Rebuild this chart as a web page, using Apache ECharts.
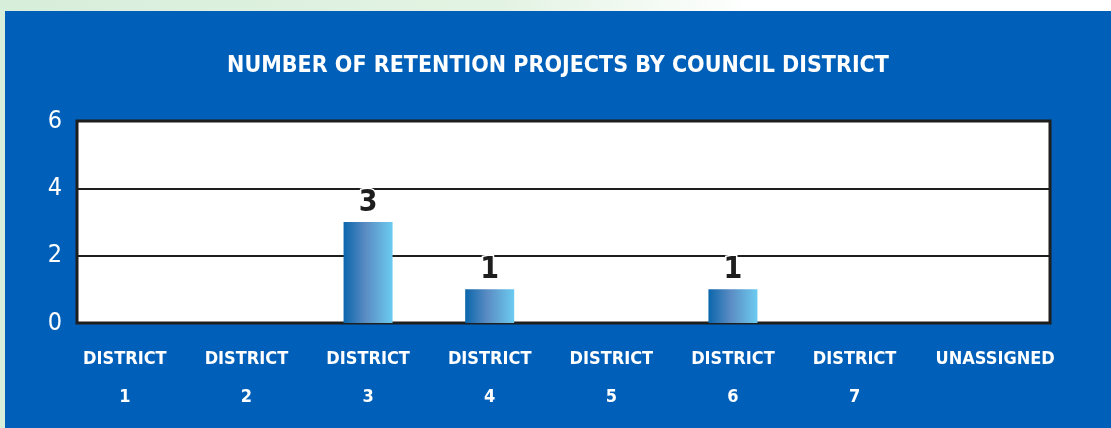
<!DOCTYPE html>
<html>
<head>
<meta charset="utf-8">
<script src="https://cdn.jsdelivr.net/npm/echarts@6/dist/echarts.min.js"></script>
<style>
  html, body { margin: 0; padding: 0; }
  body {
    width: 1111px;
    height: 428px;
    position: relative;
    overflow: hidden;
    background: linear-gradient(90deg, #d7eedb 0%, #e3f3e3 45%, #ffffff 68%, #ffffff 100%);
  }
  #chart {
    position: absolute;
    left: 5px;
    top: 11px;
    width: 1106px;
    height: 417px;
  }
</style>
</head>
<body>
<div id="chart"></div>
<script>
// 数据
const categories = ['DISTRICT\n1', 'DISTRICT\n2', 'DISTRICT\n3', 'DISTRICT\n4',
  'DISTRICT\n5', 'DISTRICT\n6', 'DISTRICT\n7', 'UNASSIGNED']
const projectCounts = [0, 0, 3, 1, 0, 1, 0, 0]
const yTicks = { min: 0, max: 6, interval: 2 }

const FONT = "'DejaVu Sans Condensed', 'DejaVu Sans', sans-serif"

const chart = echarts.init(document.getElementById('chart'))

const barColor = new echarts.graphic.LinearGradient(0, 0, 1, 0, [
  { offset: 0, color: '#0a66ac' },
  { offset: 0.45, color: '#5b8cc3' },
  { offset: 1, color: '#6bcbf0' }
])

const option = {
  backgroundColor: '#005fb8',
  animation: false,
  title: {
    text: 'NUMBER OF RETENTION PROJECTS BY COUNCIL DISTRICT',
    left: 'center',
    top: 39,
    textStyle: {
      color: '#ffffff',
      fontFamily: FONT,
      fontWeight: 'bold',
      fontSize: 23
    }
  },
  grid: [
    {
      left: 72,
      right: 61,
      top: 110,
      bottom: 105,
      show: true,
      backgroundColor: '#ffffff',
      borderColor: '#1e1e1e',
      borderWidth: 3
    },
    {
      left: 59,
      width: 973,
      top: 110,
      bottom: 105
    }
  ],
  xAxis: [
    {
      type: 'category',
      gridIndex: 0,
      data: categories,
      show: false
    },
    {
      type: 'category',
      gridIndex: 1,
      data: categories.map((c, i) => i === categories.length - 1
        ? { value: c, textStyle: { padding: [0, 0, 0, 38] } }
        : c),
      axisLine: { show: false },
      axisTick: { show: false },
      axisLabel: {
        color: '#ffffff',
        fontFamily: FONT,
        fontWeight: 'bold',
        fontSize: 18,
        lineHeight: 38,
        margin: 17,
        interval: 0
      }
    }
  ],
  yAxis: [
    {
      type: 'value',
      gridIndex: 0,
      min: yTicks.min,
      max: yTicks.max,
      interval: yTicks.interval,
      axisLine: { show: false },
      axisTick: { show: false },
      axisLabel: {
        color: '#ffffff',
        fontFamily: FONT,
        fontSize: 25,
        margin: 15
      },
      splitLine: {
        lineStyle: { color: '#1e1e1e', width: 2 }
      }
    },
    {
      type: 'value',
      gridIndex: 1,
      min: yTicks.min,
      max: yTicks.max,
      interval: yTicks.interval,
      show: false,
      splitLine: { show: false }
    }
  ],
  series: [
    {
      type: 'bar',
      xAxisIndex: 1,
      yAxisIndex: 1,
      data: projectCounts,
      barWidth: 49,
      itemStyle: { color: barColor },
      label: {
        show: true,
        position: 'top',
        distance: 4,
        color: '#1e1e1e',
        fontFamily: FONT,
        fontWeight: 'bold',
        fontSize: 30,
        textBorderColor: '#ffffff',
        textBorderWidth: 3,
        formatter: (p) => p.value > 0 ? p.value : ''
      }
    }
  ]
}

chart.setOption(option)
</script>
</body>
</html>
